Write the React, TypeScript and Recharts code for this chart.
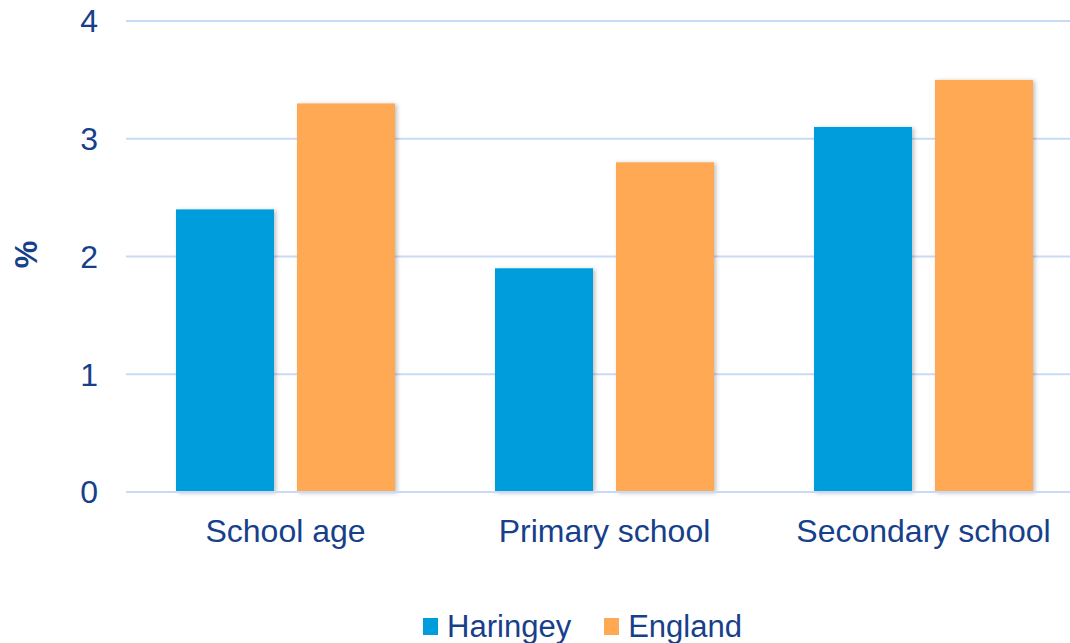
import React from "react";
import {
  BarChart,
  Bar,
  XAxis,
  YAxis,
  CartesianGrid,
  Legend,
} from "recharts";

const categories = ["School age", "Primary school", "Secondary school"];
const seriesNames = ["Haringey", "England"];
const haringey = [2.4, 1.9, 3.1];
const england = [3.3, 2.8, 3.5];
const yTicks = [0, 1, 2, 3, 4];

const TEXT = "#17408B";
const GRID = "#C9DAF6";
const BLUE = "#009DDC";
const ORANGE = "#FFA954";
const FONT = "'Liberation Sans', Arial, sans-serif";

const chartData = categories.map((name, i) => ({
  name,
  Haringey: haringey[i],
  England: england[i],
}));

function ShadowBar(props: any) {
  const { x, y, width, height, fill } = props;
  if (!height || height <= 0) return null;
  return (
    <rect x={x} y={y} width={width} height={height} fill={fill} filter="url(#barShadow)" />
  );
}

function LegendContent({ payload }: any) {
  const items = [...(payload || [])].sort(
    (a: any, b: any) => seriesNames.indexOf(a.value) - seriesNames.indexOf(b.value)
  );
  return (
    <div
      style={{
        height: 71,
        boxSizing: "border-box",
        paddingTop: 38,
        paddingLeft: 82,
        display: "flex",
        justifyContent: "center",
        fontFamily: FONT,
        fontSize: 31,
        color: TEXT,
        lineHeight: "30px",
      }}
    >
      {items.map((p: any, i: number) => (
        <div
          key={p.value}
          style={{ display: "flex", alignItems: "center", marginLeft: i > 0 ? 33 : 0 }}
        >
          <span
            style={{
              display: "inline-block",
              width: 15,
              height: 17,
              background: p.color,
              marginRight: 9,
            }}
          />
          <span>{p.value}</span>
        </div>
      ))}
    </div>
  );
}

function PercentLabel({ viewBox }: any) {
  const cx = 26;
  const cy = viewBox.y + viewBox.height / 2 - 2;
  return (
    <text
      x={cx}
      y={cy}
      transform={`rotate(-90, ${cx}, ${cy})`}
      textAnchor="middle"
      dominantBaseline="central"
      fontSize={31}
      fontWeight="bold"
      fontFamily={FONT}
      fill={TEXT}
    >
      %
    </text>
  );
}

export default function App() {
  return (
    <div
      style={{
        position: "fixed",
        left: 0,
        top: 0,
        width: 1070,
        height: 643,
        overflow: "hidden",
        background: "#fff",
      }}
    >
      <BarChart
        width={1099}
        height={643}
        data={chartData}
        margin={{ top: 21, right: 16, bottom: 0, left: 0 }}
        barCategoryGap={50}
        barGap={23}
      >
        <defs>
          <filter id="barShadow" x="-10%" y="-10%" width="130%" height="130%">
            <feDropShadow dx="2" dy="1" stdDeviation="2" floodColor="#000" floodOpacity="0.25" />
          </filter>
        </defs>
        <CartesianGrid vertical={false} stroke={GRID} strokeWidth={2} />
        <XAxis
          dataKey="name"
          height={80}
          tickLine={false}
          axisLine={{ stroke: GRID, strokeWidth: 2 }}
          tickMargin={21}
          tick={{ fontSize: 32, fill: TEXT, fontFamily: FONT }}
        />
        <YAxis
          width={126}
          domain={[0, 4]}
          ticks={yTicks}
          tickLine={false}
          axisLine={false}
          tickSize={8}
          tickMargin={20}
          tick={{ fontSize: 32, fill: TEXT, fontFamily: FONT }}
          label={<PercentLabel />}
        />
        <Legend verticalAlign="bottom" content={<LegendContent />} />
        <Bar dataKey="Haringey" fill={BLUE} shape={<ShadowBar />} isAnimationActive={false} />
        <Bar dataKey="England" fill={ORANGE} shape={<ShadowBar />} isAnimationActive={false} />
      </BarChart>
    </div>
  );
}
